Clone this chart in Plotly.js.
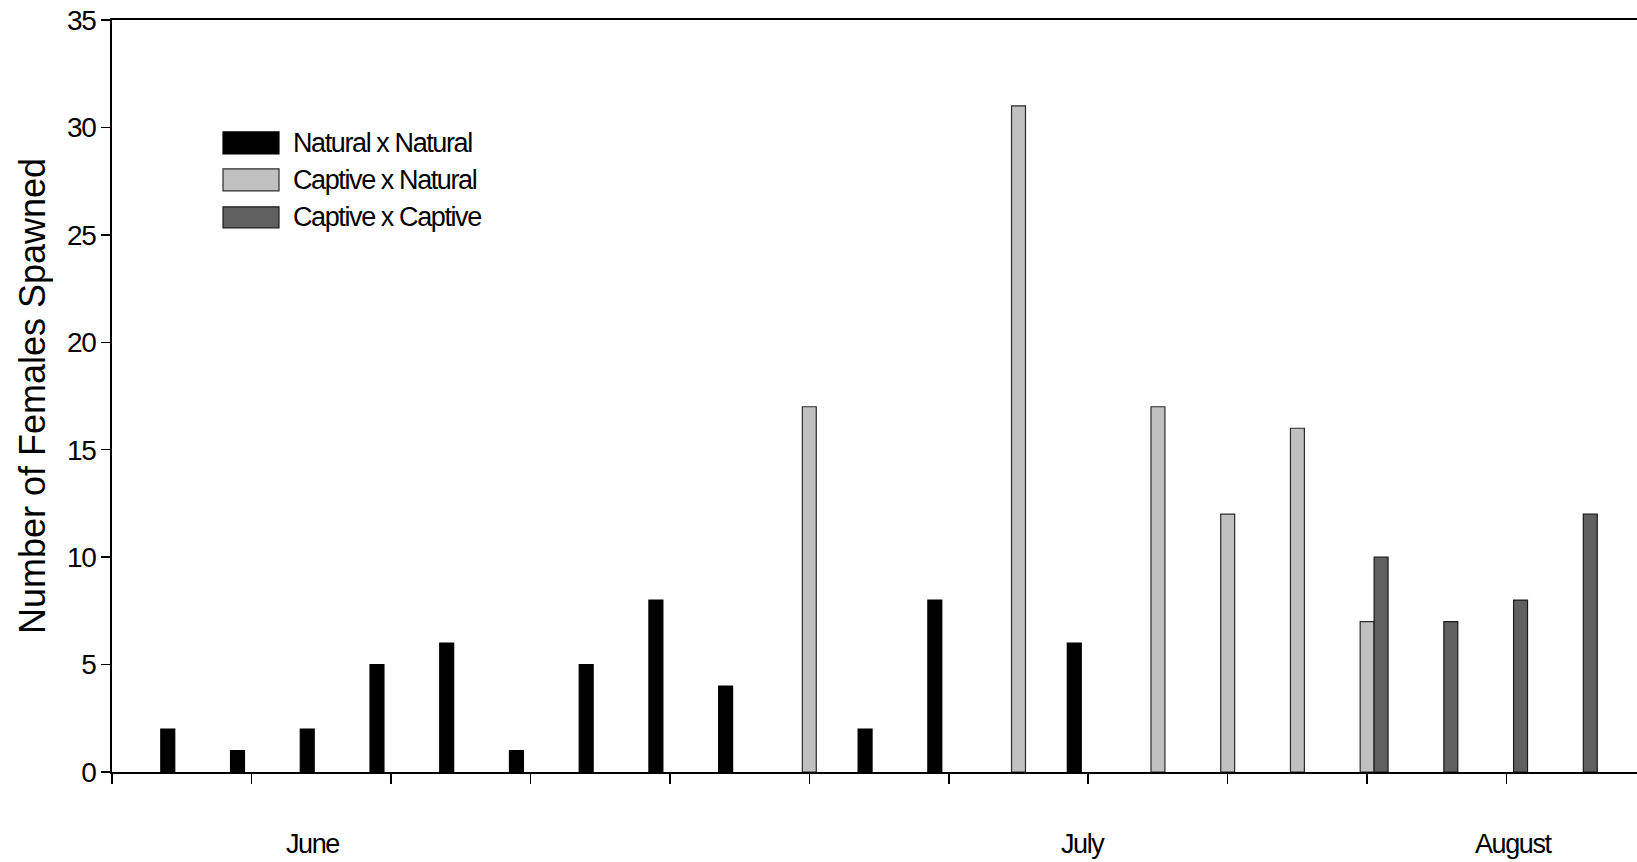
<!DOCTYPE html>
<html>
<head>
<meta charset="utf-8">
<script src="https://cdn.plot.ly/plotly-3.0.1.min.js"></script>
<style>
  html, body { margin: 0; padding: 0; background: #fff; overflow: hidden; }
  #chart { width: 1637px; height: 862px; }
  .ytick text { letter-spacing: -1.4px; }
  .annotation-text { letter-spacing: -1.4px; }
</style>
</head>
<body>
<div id="chart"></div>
<script>
// ---- data ----
const seriesNames = ["Natural x Natural", "Captive x Natural", "Captive x Captive"];
const naturalX   = [1, 2, 3, 4, 5, 6, 7, 8, 9, 11, 12, 14];
const naturalY   = [2, 1, 2, 5, 6, 1, 5, 8, 4, 2, 8, 6];
const captNatX   = [10, 13, 15, 16, 17, 18];
const captNatY   = [17, 31, 17, 12, 16, 7];
const captCaptX  = [18, 19, 20, 21];
const captCaptY  = [10, 7, 8, 12];
const monthLabels = ["June", "July", "August"];
const monthPos    = [2.88, 13.92, 20.11];
const yTitle = "Number of Females Spawned";

// ---- styling ----
const FONT = "Arial, 'Liberation Sans', sans-serif";
const fills = ["#000000", "#c0c0c0", "#606060"];
const outlines = ["#000000", "#2a2a2a", "#1a1a1a"];
const offsets = [-0.3, -0.1, 0.1];
const BW = 0.2;

const xs = [naturalX, captNatX, captCaptX];
const ys = [naturalY, captNatY, captCaptY];

const traces = seriesNames.map((name, i) => ({
  type: "bar",
  name: name,
  x: xs[i],
  y: ys[i],
  width: BW,
  offset: offsets[i],
  marker: { color: fills[i], line: { color: outlines[i], width: 1.2 } },
  showlegend: false,
  hoverinfo: "skip"
}));

// legend (manual, large swatches)
const legendTop = [0.8512, 0.8020, 0.7515];
const legendBot = [0.8219, 0.7728, 0.7236];
const shapes = seriesNames.map((n, i) => ({
  type: "rect", xref: "paper", yref: "paper",
  x0: 0.0728, x1: 0.1095, y0: legendBot[i], y1: legendTop[i],
  fillcolor: fills[i], line: { color: outlines[i], width: 1.2 }
}));
const annotations = seriesNames.map((n, i) => ({
  text: n, xref: "paper", yref: "paper",
  x: 0.1172, y: (legendTop[i] + legendBot[i]) / 2,
  xanchor: "left", yanchor: "middle", showarrow: false,
  font: { family: FONT, size: 27, color: "#000" }
}));
monthLabels.forEach((m, i) => annotations.push({
  text: m, xref: "x", yref: "paper",
  x: monthPos[i], y: -0.0962,
  xanchor: "center", yanchor: "middle", showarrow: false,
  font: { family: FONT, size: 27, color: "#000" }
}));

const layout = {
  width: 1637, height: 862,
  margin: { l: 112, r: 0, t: 20, b: 90, pad: 0 },
  paper_bgcolor: "#fff", plot_bgcolor: "#fff",
  barmode: "overlay",
  font: { family: FONT, color: "#000" },
  xaxis: {
    range: [0, 21.87], tick0: 0, dtick: 2,
    showgrid: false, zeroline: false,
    showline: true, linecolor: "#000", linewidth: 2, mirror: true,
    ticks: "outside", ticklen: 10, tickwidth: 1.5, tickcolor: "#000",
    showticklabels: false
  },
  yaxis: {
    range: [0, 35], tick0: 0, dtick: 5,
    showgrid: false, zeroline: false,
    showline: true, linecolor: "#000", linewidth: 2,
    ticks: "outside", ticklen: 9, tickwidth: 1.5, tickcolor: "#000",
    tickfont: { family: FONT, size: 28, color: "#000" },
    title: { text: yTitle, font: { family: FONT, size: 36, color: "#000" }, standoff: 10 }
  },
  shapes: shapes,
  annotations: annotations
};

Plotly.newPlot("chart", traces, layout, { staticPlot: true, displayModeBar: false });
</script>
</body>
</html>
